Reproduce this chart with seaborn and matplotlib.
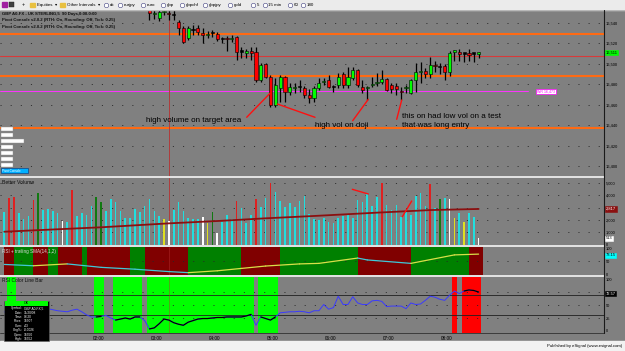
import numpy as np
import pandas as pd
import matplotlib
matplotlib.use("Agg")
import matplotlib.pyplot as plt
import matplotlib.transforms as mtransforms
from matplotlib.patches import Rectangle
import seaborn as sns

sns.set_theme(style="white")
plt.rcParams['font.family'] = ['Liberation Sans', 'DejaVu Sans']
plt.rcParams['lines.scale_dashes'] = False
plt.rcParams['axes.linewidth'] = 0

# ------------------------------------------------------------------ data
first_bar_minute = 22.5          # 5-minute bars
bar_minutes = 5
time_ticks = ['02:00', '03:00', '04:00', '05:00', '06:00', '07:00', '08:00']
cursor_bar = 34

price_first_bar = 30
opens = [16556, 16549, 16545, 16551, 16550, 16548, 16541, 16535, 16525, 16533,
         16535, 16530, 16528, 16530, 16529, 16524, 16525, 16524, 16526, 16512,
         16511, 16512, 16512, 16484, 16500, 16487, 16460, 16476, 16487, 16472,
         16476, 16477, 16476, 16469, 16467, 16476, 16482, 16484, 16477, 16479,
         16490, 16479, 16486, 16494, 16477, 16476, 16479, 16481, 16482, 16485,
         16479, 16478, 16473, 16476, 16471, 16484, 16492, 16493, 16490, 16499,
         16497, 16498, 16492, 16512, 16512, 16510, 16510, 16510, 16510]
highs = [16560, 16556, 16554, 16555, 16556, 16553, 16543, 16537, 16537, 16538,
         16538, 16535, 16532, 16533, 16531, 16526, 16527, 16528, 16527, 16516,
         16515, 16516, 16516, 16501, 16501, 16489, 16486, 16489, 16488, 16481,
         16481, 16484, 16478, 16475, 16478, 16486, 16486, 16489, 16479, 16491,
         16492, 16497, 16497, 16495, 16484, 16478, 16487, 16491, 16494, 16486,
         16481, 16481, 16477, 16479, 16485, 16501, 16502, 16496, 16507, 16503,
         16501, 16500, 16513, 16514, 16515, 16511, 16515, 16511, 16512]
lows = [16543, 16544, 16542, 16548, 16543, 16543, 16528, 16520, 16523, 16528,
        16528, 16520, 16525, 16526, 16522, 16520, 16513, 16521, 16504, 16506,
        16506, 16504, 16482, 16482, 16486, 16458, 16458, 16463, 16463, 16469,
        16471, 16472, 16467, 16462, 16463, 16474, 16479, 16476, 16472, 16476,
        16476, 16476, 16484, 16477, 16471, 16465, 16477, 16478, 16480, 16473,
        16471, 16469, 16465, 16471, 16470, 16472, 16481, 16486, 16486, 16492,
        16490, 16484, 16488, 16503, 16503, 16502, 16503, 16502, 16506]
closes = [16550, 16550, 16551, 16552, 16549, 16548, 16535, 16521, 16535, 16533,
          16531, 16528, 16529, 16530, 16524, 16524, 16524, 16525, 16512, 16512,
          16512, 16511, 16484, 16499, 16487, 16460, 16479, 16487, 16472, 16477,
          16477, 16477, 16469, 16467, 16476, 16481, 16483, 16477, 16477, 16487,
          16479, 16487, 16494, 16479, 16474, 16477, 16480, 16482, 16485, 16474,
          16475, 16475, 16472, 16477, 16484, 16492, 16493, 16490, 16499, 16498,
          16497, 16492, 16511, 16513, 16510, 16510, 16509, 16510, 16511]

pivot_levels = [16529, 16508, 16488, 16437]
pivot_colors = ['#ff6a13', '#d83a3a', '#ff6a13', '#ff6a13']
pivot_widths = [1.5, 0.8, 1.5, 1.5]
target_level = 16473
price_ticks = [16400, 16420, 16440, 16460, 16480, 16500, 16520, 16540]

volume = [2670, 3750, 3835, 2530, 2070, 2320, 3620, 4160, 2800, 2860,
          2720, 2530, 1940, 1860, 4430, 2320, 2590, 2400, 3130, 3890,
          3480, 2750, 3700, 3430, 2720, 2130, 2130, 2890, 2615, 3160,
          3700, 2750, 2320, 2070, 1910, 2800, 3430, 2720, 2130, 2045,
          2045, 2260, 1720, 2615, 910, 1860, 2400, 2045, 3560, 2995,
          1775, 2400, 3700, 3075, 3750, 4970, 4300, 3560, 3075, 3400,
          3075, 3560, 3970, 2480, 2045, 1990, 2130, 1860, 1775, 2130,
          2345, 2480, 2130, 3620, 3480, 4105, 3130, 3890, 5030, 3210,
          2800, 3210, 2260, 2670, 2400, 3940, 4160, 3130, 4920, 2940,
          3670, 3750, 3670, 2130, 2590, 1800, 2560, 2260, 513]
volume_class = ['c', 'r', 'r', 'c', 'c', 'c', 'r', 'g', 'c', 'c',
                'c', 'c', 'w', 'c', 'r', 'c', 'c', 'c', 'c', 'g',
                'g', 'c', 'c', 'c', 'c', 'c', 'c', 'c', 'c', 'c',
                'c', 'c', 'c', 'y', 'w', 'c', 'c', 'c', 'c', 'c',
                'c', 'w', 'y', 'g', 'w', 'c', 'c', 'c', 'r', 'c',
                'c', 'c', 'r', 'c', 'c', 'r', 'c', 'c', 'c', 'c',
                'c', 'c', 'c', 'c', 'c', 'c', 'c', 'c', 'c', 'c',
                'c', 'c', 'c', 'c', 'c', 'c', 'c', 'c', 'r', 'c',
                'c', 'c', 'c', 'c', 'c', 'c', 'c', 'c', 'r', 'c',
                'g', 'c', 'w', 'y', 'c', 'y', 'c', 'c', 'w']
vol_ma_bars = [0, 6, 20, 34, 44, 54, 64, 77, 88, 98]
vol_ma_values = [1040, 1150, 1400, 1720, 1910, 2130, 2320, 2590, 2800, 2890]
vol_ticks = [0, 1000, 2000, 3000, 4000, 5000]

trend_runs = [2, 4, 3, 2, 5, 1, 9, 3, 9, 11, 8, 16, 11, 12, 3]
trend_up = [0, 1, 0, 1, 0, 1, 0, 1, 0, 1, 0, 1, 0, 1, 0]
rsi_sma_bars = [0, 6, 13, 20, 27, 34, 38, 44, 49, 54, 61, 65, 73, 75, 84, 93, 98]
rsi_sma_values = [38, 33, 40, 27, 20, 11, 7, 14, 23, 32, 40, 42, 62, 55, 42, 74, 77]

rsi = [37, 30, 29, 35, 40, 42, 44, 42, 44, 43, 41, 39, 38, 37, 40, 42, 37, 31, 27, 27,
       28, 30, 25, 21, 23, 25, 23, 27, 27, 20, 4, 6, 14, 23, 21, 16, 13, 11, 17, 20,
       23, 24, 24, 25, 26, 26, 27, 27, 27, 27, 29, 32, 11, 27, 24, 21, 27, 35, 36, 37,
       37, 38, 37, 35, 39, 39, 51, 42, 45, 67, 51, 51, 66, 54, 51, 51, 58, 59, 57, 47,
       48, 48, 48, 43, 54, 51, 52, 59, 67, 65, 61, 59, 69, 77, 72, 77, 79, 78, 75]
rsi_low_zones = [(1, 2), (19, 20), (23, 28), (30, 51), (53, 56)]
rsi_high_zones = [(93, 93), (95, 98)]

# ------------------------------------------------------------------ style
W, H = 625, 351
GRAY = '#808080'
GRID = dict(color='#262626', lw=0.6, ls=(0, (0.8, 6.5)))
LAB = 2.9

fig = plt.figure(figsize=(W / 100, H / 100), dpi=100)
fig.patch.set_facecolor(GRAY)


def px_axes(x0, y0, x1, y1, z=1):
    ax = fig.add_axes([x0 / W, 1 - y1 / H, (x1 - x0) / W, (y1 - y0) / H])
    ax.set_zorder(z)
    return ax


n_bars = len(volume)
bars = np.arange(n_bars)
bar_px = 4.84
xlim = (-4.3 / bar_px, (604 - 4.3) / bar_px)
tick_pos = [(int(t[:2]) * 60 - first_bar_minute) / bar_minutes for t in time_ticks]


def base(ax, ylim):
    ax.set_facecolor(GRAY)
    ax.set_xlim(*xlim)
    ax.set_ylim(*ylim)
    ax.set_xticks([])
    ax.yaxis.tick_right()
    ax.tick_params(axis='y', length=0, pad=1.5, labelsize=LAB, colors='black')
    for s in ax.spines.values():
        s.set_visible(False)
    ax.set_xlabel('')
    ax.set_ylabel('')


def boxed(ax, y, txt, fc, tc, ec='black'):
    tr = mtransforms.blended_transform_factory(ax.transAxes, ax.transData)
    ax.text(1.003, y, txt, transform=tr, fontsize=LAB, color=tc, va='center', ha='left',
            clip_on=False, bbox=dict(boxstyle='square,pad=0.15', fc=fc, ec=ec, lw=0.4))


# ------------------------------------------------------------------ price panel
axp = px_axes(0, 10, 604, 177)
base(axp, (16389.2, 16552.7))
axp.set_yticks(price_ticks)
axp.set_yticklabels([f'{v:,}' for v in price_ticks])
for v in price_ticks:
    axp.axhline(v, **GRID, zorder=1)
for lvl, col, lw in zip(pivot_levels, pivot_colors, pivot_widths):
    axp.axhline(lvl, color=col, lw=lw, zorder=2)
axp.axhline(target_level, xmax=528 / 604, color='#ff33ff', lw=0.7, zorder=2)
axp.axvline(cursor_bar, color='#b83030', lw=0.6, zorder=2)

pb = np.arange(price_first_bar, price_first_bar + len(closes))
o = np.array(opens); c = np.array(closes)
axp.vlines(pb, lows, highs, color='black', lw=0.9, zorder=3)
body_col = np.where(c > o, '#00ff00', np.where(c < o, '#ff0000', '#000000'))
axp.bar(pb, np.maximum(np.abs(c - o), 1.2), bottom=np.minimum(o, c), width=0.66,
        color=body_col, edgecolor='black', linewidth=0.4, zorder=4)
boxed(axp, closes[-1], f'{closes[-1]:,}', '#00ff00', 'black', ec='#00ff00')
axp.text(537 / 604, target_level, 'WR 16,473', transform=mtransforms.blended_transform_factory(axp.transAxes, axp.transData),
         fontsize=2.6, color='#ff00ff', va='center', ha='left',
         bbox=dict(boxstyle='square,pad=0.2', fc='white', ec='#ff00ff', lw=0.5), zorder=5)

# ------------------------------------------------------------------ volume panel
axv = px_axes(0, 178, 604, 245.5)
base(axv, (-80, 5407))
vol_palette = {'c': '#00ffff', 'r': '#ff0000', 'g': '#008a00', 'w': '#ffffff', 'y': '#ffff00'}
vol_df = pd.DataFrame({'bar': bars, 'volume': volume, 'kind': volume_class})
sns.barplot(data=vol_df, x='bar', y='volume', hue='kind', palette=vol_palette,
            native_scale=True, width=0.34, dodge=False, legend=False, linewidth=0,
            errorbar=None, ax=axv, zorder=3)
sns.lineplot(x=vol_ma_bars, y=vol_ma_values, color='#8b1010', lw=1.3, ax=axv, zorder=4)
base(axv, (-80, 5407))
axv.set_yticks(vol_ticks)
axv.set_yticklabels([f'{v:,}' for v in vol_ticks])
for v in vol_ticks[1:]:
    axv.axhline(v, **GRID, zorder=1)
axv.axvline(cursor_bar, color='#b83030', lw=0.6, zorder=2)
boxed(axv, vol_ma_values[-1], '2,817', '#8b1010', 'white', ec='#8b1010')
boxed(axv, volume[-1], f'{volume[-1]}', 'white', 'black', ec='white')
axv.text(0.004, 0.93, 'Better Volume', transform=axv.transAxes, fontsize=3.7,
         color='#111111', va='center', ha='left')

# ------------------------------------------------------------------ RSI + trailing SMA panel
axs = px_axes(0, 246.5, 604, 275.3)
base(axs, (-3, 105.7))
start = 0
for run, up in zip(trend_runs, trend_up):
    axs.axvspan(start, start + run, color='#008000' if up else '#800000', lw=0, zorder=1)
    start += run
sb = np.array(rsi_sma_bars); sv = np.array(rsi_sma_values)
for k in range(len(sb) - 1):
    col = '#d8e048' if sv[k + 1] > sv[k] else '#40c8d8'
    sns.lineplot(x=sb[k:k + 2], y=sv[k:k + 2], color=col, lw=0.9, ax=axs, zorder=3)
base(axs, (-3, 105.7))
axs.set_yticks([0, 50, 100])
axs.set_yticklabels(['0', '50', '100'])
axs.axhline(50, **GRID, zorder=2)
axs.axvline(cursor_bar, color='#b83030', lw=0.5, alpha=0.6, zorder=2)
boxed(axs, 73.15, '73.15', '#00ffff', 'black', ec='#00ffff')
axs.text(0.004, 0.84, 'RSI + trailing SMA(14,1,2)', transform=axs.transAxes, fontsize=3.3,
         color='#dddddd', va='center', ha='left', zorder=5)

# ------------------------------------------------------------------ RSI colour line bar panel
axr = px_axes(0, 276.5, 604, 332.5)
base(axr, (-2.9, 104.9))
for a, b in rsi_low_zones:
    axr.axvspan(a - 0.5, b + 0.5, color='#00ff00', lw=0, zorder=1)
for a, b in rsi_high_zones:
    axr.axvspan(a - 0.5, b + 0.5, color='#ff0000', lw=0, zorder=1)
for v in (25, 50, 75):
    axr.axhline(v, **GRID, zorder=2)
for v in (30, 70):
    axr.axhline(v, color='#202020', lw=0.6, zorder=2)
axr.axvline(cursor_bar, color='#b83030', lw=0.5, alpha=0.6, zorder=2)
sns.lineplot(x=bars, y=rsi, color='#3a3aff', lw=0.7, ax=axr, zorder=3)
rsi_arr = np.array(rsi)
for a, b in rsi_low_zones + rsi_high_zones:
    if b > a:
        sns.lineplot(x=bars[a:b + 1], y=rsi_arr[a:b + 1], color='black', lw=0.9, ax=axr, zorder=4)
base(axr, (-2.9, 104.9))
axr.set_yticks([0, 25, 50, 100])
axr.set_yticklabels(['0', '25', '50', '100'])
boxed(axr, rsi[-1] - 3, '72.57', 'black', 'white', ec='black')
axr.set_xticks(tick_pos)
axr.set_xticklabels(time_ticks)
axr.tick_params(axis='x', length=0, pad=2.2, labelsize=3.4, colors='black')
axr.text(0.004, 0.93, 'RSI Color Line Bar', transform=axr.transAxes, fontsize=3.5,
         color='#111111', va='center', ha='left', zorder=5)

# ------------------------------------------------------------------ chrome (toolbar, footer, overlays)
ov = px_axes(0, 0, W, H, z=10)
ov.set_xlim(0, W); ov.set_ylim(H, 0); ov.axis('off'); ov.patch.set_alpha(0)

# toolbar
ov.add_patch(Rectangle((0, 0), W, 9.6, color='#ebebeb', zorder=1))
ov.plot([0, W], [9.6, 9.6], color='#b0b0b0', lw=0.6, zorder=2)
ov.add_patch(Rectangle((1.5, 2), 5, 5, color='#a020a0', zorder=2))
ov.add_patch(Rectangle((8.5, 2), 5, 5, fc='#404040', ec='#202020', lw=0.3, zorder=2))
ov.text(23, 5, '+', fontsize=4, ha='center', va='center', color='black', zorder=3)
for fx, label in [(30, 'Equities  \u25be'), (60, 'Other Intervals  \u25be')]:
    ov.add_patch(Rectangle((fx, 2.5), 5, 4, color='#e8c040', zorder=2))
    ov.text(fx + 7, 5, label, fontsize=3.2, ha='left', va='center', color='black', zorder=3)
for cx, label in [(106, 'dx'), (120, 'eurjpy'), (143, 'euro'), (163, 'gbp'), (182, 'gbpchf'),
                  (205, 'gbpjpy'), (230, 'gold'), (253, '5'), (265, '15 min'), (290, '60'), (303, '180')]:
    ov.plot(cx, 5, marker='o', ms=3.2, mfc='white', mec='#404080', mew=0.4, zorder=3)
    ov.text(cx + 3.5, 5, label, fontsize=3.2, ha='left', va='center', color='black', zorder=3)

# header text
ov.text(2, 13.5, 'GBP A0-FX - UK STERLING,5  90 Days,0:00-0:00', fontsize=3.1, fontweight='bold',
        color='#101010', ha='left', va='center', zorder=3)
for yy in (20.3, 27):
    ov.text(2, yy, 'Pivot Console v2.0.2 (RTH: On, Rounding: Off, Tick: 0.25)', fontsize=3.1,
            fontweight='bold', color='#101010', ha='left', va='center', zorder=3)

# left-side buttons
for y0 in (127, 133, 145, 151, 157, 163):
    ov.add_patch(Rectangle((1, y0), 11.5, 4, fc='white', ec='#909090', lw=0.3, zorder=3))
ov.add_patch(Rectangle((1, 139), 23, 4, fc='white', ec='#909090', lw=0.3, zorder=3))
ov.add_patch(Rectangle((1, 168), 27, 5, fc='#00b0ff', ec='#003080', lw=0.4, zorder=3))
ov.text(2, 170.6, 'Pivot Console', fontsize=2.2, color='white', ha='left', va='center', zorder=4)

# panel separators and right axis line
for yy in (177.3, 245.8, 275.8):
    ov.plot([0, 604], [yy, yy], color='white', lw=1.1, zorder=3)
ov.plot([0, 604], [332.6, 332.6], color='#303030', lw=0.6, zorder=3)
ov.plot([604.3, 604.3], [10, 333], color='#1a1a1a', lw=0.8, zorder=3)

# footer
ov.add_patch(Rectangle((0, 341), W, 10, color='#f2f2f2', zorder=1))
ov.text(622, 346.3, 'Published by eSignal (www.esignal.com)', fontsize=3.1, color='black',
        ha='right', va='center', zorder=3)

# data window popup
ov.add_patch(Rectangle((4, 301), 44.5, 40, fc='black', ec='#606060', lw=0.4, zorder=5))
ov.add_patch(Rectangle((4.5, 301.3), 43.5, 4.4, fc='#00ff00', lw=0, zorder=6))
ov.text(26, 303.5, 'OK', fontsize=2.6, color='black', ha='center', va='center', zorder=7)
dw = [('Symbol:', 'GBP A0-FX,5'), ('Date:', '11/20/08'), ('Time:', '03:20'), ('Price:', '16507'),
      ('Cum:', '-43'), ('Chg%:', '-0.0026'), ('Open:', '16550'), ('High:', '16552')]
for k, (a, b) in enumerate(dw):
    yy = 308.3 + 4.4 * k
    ov.text(22.5, yy, a, fontsize=2.3, color='white', ha='right', va='center', zorder=7)
    ov.text(24, yy, b, fontsize=2.3, color='white', ha='left', va='center', zorder=7)

# hand-drawn annotations
ann = dict(fontsize=5.8, color='black', ha='left', va='center', zorder=8)
ov.text(146, 121, 'high volume on target area', **ann)
ov.text(315, 125.3, 'high vol on doji', **ann)
ov.text(401.5, 116.3, 'this on had low vol on a test', **ann)
ov.text(401.5, 125.3, 'that was long entry', **ann)
for (x0, y0), (x1, y1) in [((246.7, 117.3), (270, 93.3)), ((277.3, 104), (315, 117.3)),
                           ((352.7, 120.7), (368.3, 99.3)), ((396.7, 119.3), (401.7, 100)),
                           ((352.3, 189.3), (368.3, 194)), ((402.3, 216.7), (411.7, 201))]:
    ov.plot([x0, x1], [y0, y1], color='#ff1010', lw=1.0, solid_capstyle='round', zorder=8)

fig.savefig('out.png', dpi=100, facecolor=fig.get_facecolor())
